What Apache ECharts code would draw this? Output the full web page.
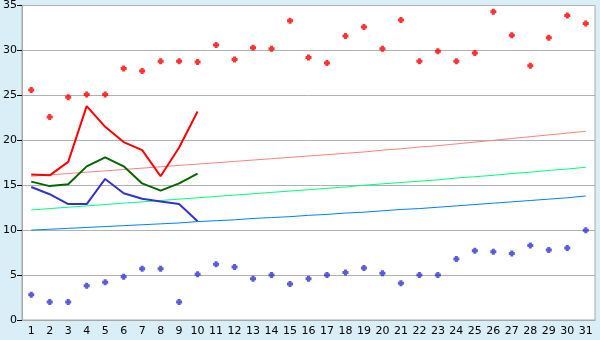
<!DOCTYPE html>
<html><head><meta charset="utf-8">
<script src="https://cdn.jsdelivr.net/npm/echarts@6/dist/echarts.min.js"></script>
<style>html,body{margin:0;padding:0;background:#d9eef6;}#c{width:600px;height:340px;}</style>
</head><body><div id="c"></div>
<script>
var days = [];
for (var d = 1; d <= 31; d++) days.push(String(d));
var recordMax = [25.6,22.6,24.8,25.1,25.1,28.0,27.7,28.8,28.8,28.7,30.6,29.0,30.3,30.2,33.3,29.2,28.6,31.6,32.6,30.2,33.4,28.8,29.9,28.8,29.7,34.3,31.7,28.3,31.4,33.9,33.0];
var recordMin = [2.8,2.0,2.0,3.8,4.2,4.8,5.7,5.7,2.0,5.1,6.2,5.9,4.6,5.0,4.0,4.6,5.0,5.3,5.8,5.2,4.1,5.0,5.0,6.8,7.7,7.6,7.4,8.3,7.8,8.0,10.0];
var tMax = [16.2,16.1,17.6,23.8,21.5,19.8,18.9,16.0,19.2,23.2];
var tMean = [15.4,14.9,15.1,17.1,18.1,17.1,15.2,14.4,15.2,16.3];
var tMin = [14.8,14.0,12.9,12.9,15.7,14.1,13.5,13.2,12.9,11.0];
var normMax = [16.0,16.15,16.3,16.45,16.6,16.75,16.9,17.05,17.2,17.35,17.5,17.65,17.8,17.95,18.1,18.25,18.4,18.55,18.7,18.9,19.05,19.25,19.4,19.6,19.8,20.0,20.2,20.4,20.6,20.8,21.0];
var normMean = [12.25,12.4,12.55,12.7,12.85,13.0,13.15,13.3,13.45,13.6,13.75,13.9,14.05,14.2,14.35,14.5,14.65,14.8,15.0,15.15,15.3,15.45,15.6,15.8,15.95,16.1,16.3,16.45,16.65,16.8,17.0];
var normMin = [10.0,10.1,10.2,10.3,10.4,10.5,10.6,10.7,10.8,10.95,11.05,11.15,11.3,11.4,11.5,11.65,11.75,11.9,12.0,12.15,12.3,12.4,12.55,12.7,12.85,13.0,13.15,13.3,13.45,13.6,13.8];

var chart = echarts.init(document.getElementById('c'), null, {renderer:'canvas'});
var font = {fontFamily:'DejaVu Sans', fontSize:11, color:'#000'};
var plusPath = 'path://M1.5,0H4.5V1.5H6V4.5H4.5V6H1.5V4.5H0V1.5H1.5Z';
function line(data, color, w, z){
  return {type:'line', data:data, symbol:'none', z:z, animation:false,
    lineStyle:{color:color, width:w}, itemStyle:{color:color}};
}
function pts(data, color){
  return {type:'scatter', data:data, symbol:plusPath, symbolSize:6, z:5, animation:false,
    itemStyle:{color:color}};
}
chart.setOption({
  backgroundColor:'#d9eef6',
  animation:false,
  grid:{left:21, right:5, top:5, bottom:20, show:true, backgroundColor:'#ffffff', borderColor:'#a8a8a8', borderWidth:1},
  xAxis:{type:'category', data:days, boundaryGap:true,
    axisLine:{lineStyle:{color:'#a8a8a8'}},
    axisTick:{alignWithLabel:true, length:5, lineStyle:{color:'#000'}},
    axisLabel:Object.assign({margin:6, interval:0}, font),
    splitLine:{show:false}},
  yAxis:{type:'value', min:0, max:35, interval:5,
    axisLine:{show:true, lineStyle:{color:'#a8a8a8'}},
    axisTick:{show:true, length:5, lineStyle:{color:'#000'}},
    axisLabel:Object.assign({margin:5}, font),
    splitLine:{lineStyle:{color:'#b0b0b0', width:1}}},
  series:[
    line(normMax, '#ff8080', 1, 2),
    line(normMean, '#00ff80', 1, 2),
    line(normMin, '#0080ff', 1, 2),
    line(tMax, '#ff0000', 2, 3),
    line(tMean, '#006600', 2, 3),
    line(tMin, '#3333cc', 2, 3),
    pts(recordMax, '#ff0000'),
    pts(recordMin, '#3333cc')
  ]
});
</script></body></html>
